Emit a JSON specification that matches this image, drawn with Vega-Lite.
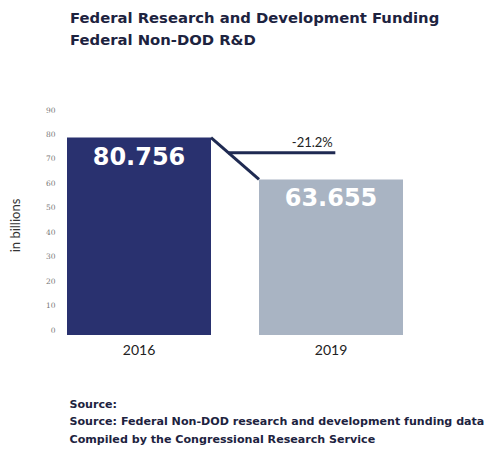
{
  "$schema": "https://vega.github.io/schema/vega-lite/v6.json",
  "autosize": {"type": "none"},
  "padding": {"left": 67, "top": 115, "right": 85, "bottom": 124},
  "width": 336,
  "height": 220,
  "background": "white",
  "config": {
    "view": {"stroke": null},
    "font": "Lato",
    "axisY": {
      "title": "in billions",
      "titleFontSize": 13,
      "titleFontWeight": "normal",
      "titleColor": "#333333",
      "titlePadding": 23,
      "values": [0, 10, 20, 30, 40, 50, 60, 70, 80, 90],
      "tickCount": 10,
      "labelOverlap": false,
      "labelBound": false,
      "labelFont": "DejaVu Serif",
      "labelFontSize": 7.5,
      "labelColor": "#777777",
      "labelPadding": 12,
      "labelOffset": -5,
      "ticks": false,
      "domain": false,
      "grid": false
    }
  },
  "title": {
    "text": ["Federal Research and Development Funding", "Federal Non-DOD R&D"],
    "anchor": "start",
    "frame": "group",
    "dx": 3,
    "font": "DejaVu Sans",
    "fontSize": 14.8,
    "fontWeight": "bold",
    "color": "#1d2340",
    "lineHeight": 22,
    "offset": 58
  },
  "datasets": {
    "bars": [
      {"year": "2016", "funding": 80.756, "label": "80.756"},
      {"year": "2019", "funding": 63.655, "label": "63.655"}
    ],
    "change": [
      {"from": "2016", "to": "2019", "start": 80.756, "end": 63.655, "level": 74.6, "pct": "-21.2%"}
    ]
  },
  "layer": [
    {
      "data": {"name": "bars"},
      "mark": {"type": "bar"},
      "encoding": {
        "x": {
          "field": "year", "type": "nominal",
          "scale": {"paddingInner": 0.25, "paddingOuter": 0},
          "axis": {
            "title": ["Source:", "Source: Federal Non-DOD research and development funding data", "Compiled by the Congressional Research Service"],
            "titleAnchor": "start",
            "titleAlign": "left",
            "titleX": 2,
            "titleFont": "DejaVu Sans",
            "titleFontSize": 11.1,
            "titleFontWeight": "bold",
            "titleColor": "#1d2340",
            "titleLineHeight": 17.5,
            "titlePadding": 41,
            "labelAngle": 0,
            "labelFontSize": 14,
            "labelColor": "#222222",
            "labelPadding": 8,
            "ticks": false,
            "domain": false
          }
        },
        "y": {
          "field": "funding", "type": "quantitative",
          "title": "in billions",
          "scale": {"domain": [0, 90]},
          "axis": {"values": [0, 10, 20, 30, 40, 50, 60, 70, 80, 90]}
        },
        "color": {
          "field": "year", "type": "nominal",
          "scale": {"range": ["#29316f", "#a9b4c3"]},
          "legend": null
        }
      }
    },
    {
      "data": {"name": "bars"},
      "mark": {"type": "text", "color": "white", "font": "DejaVu Sans", "fontWeight": "bold", "fontSize": 24, "baseline": "middle", "dy": 20},
      "encoding": {
        "x": {"field": "year", "type": "nominal"},
        "y": {"field": "funding", "type": "quantitative", "title": "in billions", "axis": {"values": [0, 10, 20, 30, 40, 50, 60, 70, 80, 90]}},
        "text": {"field": "label"}
      }
    },
    {
      "data": {"name": "change"},
      "mark": {"type": "rule", "color": "#1f2a52", "strokeWidth": 3},
      "encoding": {
        "x": {"field": "from", "type": "nominal", "bandPosition": 1},
        "x2": {"field": "to", "bandPosition": 0},
        "y": {"field": "start", "type": "quantitative", "title": "in billions", "axis": {"values": [0, 10, 20, 30, 40, 50, 60, 70, 80, 90]}},
        "y2": {"field": "end"}
      }
    },
    {
      "data": {"name": "change"},
      "mark": {"type": "rule", "color": "#1f2a52", "strokeWidth": 3, "xOffset": 17},
      "encoding": {
        "x": {"field": "from", "type": "nominal", "bandPosition": 1},
        "x2": {"field": "to", "bandPosition": 0.53},
        "y": {"field": "level", "type": "quantitative", "title": "in billions", "axis": {"values": [0, 10, 20, 30, 40, 50, 60, 70, 80, 90]}}
      }
    },
    {
      "data": {"name": "change"},
      "mark": {"type": "text", "fontSize": 13, "color": "#222222", "baseline": "bottom", "dy": -3},
      "encoding": {
        "x": {"field": "to", "type": "nominal", "bandPosition": 0.37},
        "y": {"field": "level", "type": "quantitative", "title": "in billions", "axis": {"values": [0, 10, 20, 30, 40, 50, 60, 70, 80, 90]}},
        "text": {"field": "pct"}
      }
    }
  ]
}
